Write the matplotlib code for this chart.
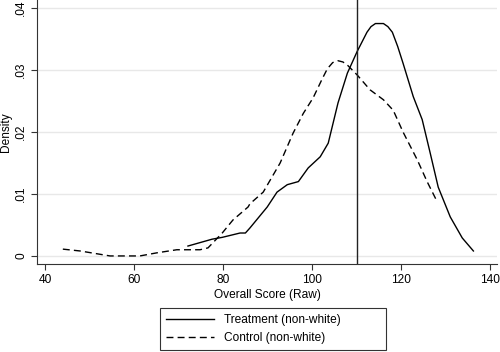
import matplotlib
matplotlib.use("Agg")
import matplotlib.pyplot as plt

# treatment (non-white), solid
treat_x = [72.1, 77.5, 79.8, 83.8, 85.0, 86.0, 89.9, 92.1, 94.4, 96.9, 99.1, 101.8,
           103.6, 105.8, 107.9, 110.1, 112.3, 113.2, 114.2, 116.0, 117.0, 118.0, 119.2,
           120.4, 122.7, 124.7, 126.5, 128.3, 131.0, 133.7, 136.2]
treat_y = [.0016, .0027, .0030, .0037, .0037, .0045, .0079, .0103, .0115, .0120, .0142, .0160,
           .0182, .0247, .0295, .0330, .0361, .0370, .0375, .0375, .0370, .0361, .0338,
           .0311, .0257, .0220, .0166, .0111, .0063, .0029, .0008]

# control (non-white), dashed
ctrl_x = [44.0, 47.9, 54.6, 61.3, 65.1, 69.6, 74.8, 76.6, 79.8, 82.2, 85.6, 86.0, 89.0,
          92.8, 95.7, 98.0, 100.2, 102.2, 103.4, 104.6, 105.8, 106.9, 107.9, 110.1,
          113.0, 116.0, 118.2, 120.4, 123.6, 125.8, 128.1]
ctrl_y = [.0011, .0008, .0000, .0000, .0005, .0010, .0010, .0013, .0037, .0058, .0079, .0084, .0103,
          .0150, .0198, .0230, .0255, .0285, .0302, .0312, .0315, .0313, .0308, .0292,
          .0268, .0252, .0235, .0200, .0155, .0120, .0087]

cutoff = 110
x_ticks = [40, 60, 80, 100, 120, 140]
y_ticks = [0, .01, .02, .03, .04]
y_labels = ["0", ".01", ".02", ".03", ".04"]

plt.rcParams['font.family'] = ['Liberation Sans', 'DejaVu Sans']
fs = 8.6

fig = plt.figure(figsize=(5, 3.52), dpi=100)
ax = fig.add_axes([0.074, 0.25, 0.92, 0.75])

ax.plot(treat_x, treat_y, color='black', linewidth=1.0, label='Treatment (non-white)')
ax.plot(ctrl_x, ctrl_y, color='black', linewidth=1.0, linestyle=(0, (5, 3)),
        label='Control (non-white)')
ax.axvline(cutoff, color='#222222', linewidth=1.0)

ax.set_xlim(38.2, 141.5)
ax.set_ylim(-0.0013, 0.0413)
ax.set_xticks(x_ticks)
ax.set_yticks(y_ticks)
ax.set_yticklabels(y_labels, rotation=90, va='center')
ax.yaxis.grid(True, color='#e8e8e8', linewidth=1.0)
ax.set_axisbelow(True)
for s in ['top', 'right']:
    ax.spines[s].set_visible(False)
for s in ['left', 'bottom']:
    ax.spines[s].set_color('#333333')
ax.tick_params(direction='out', length=4, labelsize=fs, color='#333333')
ax.tick_params(axis='y', pad=3)
ax.set_xlabel('Overall Score (Raw)', fontsize=fs, labelpad=2)
ax.set_ylabel('Density', fontsize=fs, labelpad=2)

# legend box under the axes, spanning about x=160..386 px
leg = ax.legend(loc='upper left', bbox_to_anchor=(0.267, -0.267, 0.491, 0.1), mode='expand',
                ncol=1, fontsize=fs, frameon=True, fancybox=False, edgecolor='black',
                handlelength=4, handletextpad=0.9, borderpad=0.5, labelspacing=0.5,
                borderaxespad=0)
leg.get_frame().set_linewidth(0.8)

fig.savefig('out.png', dpi=100)
